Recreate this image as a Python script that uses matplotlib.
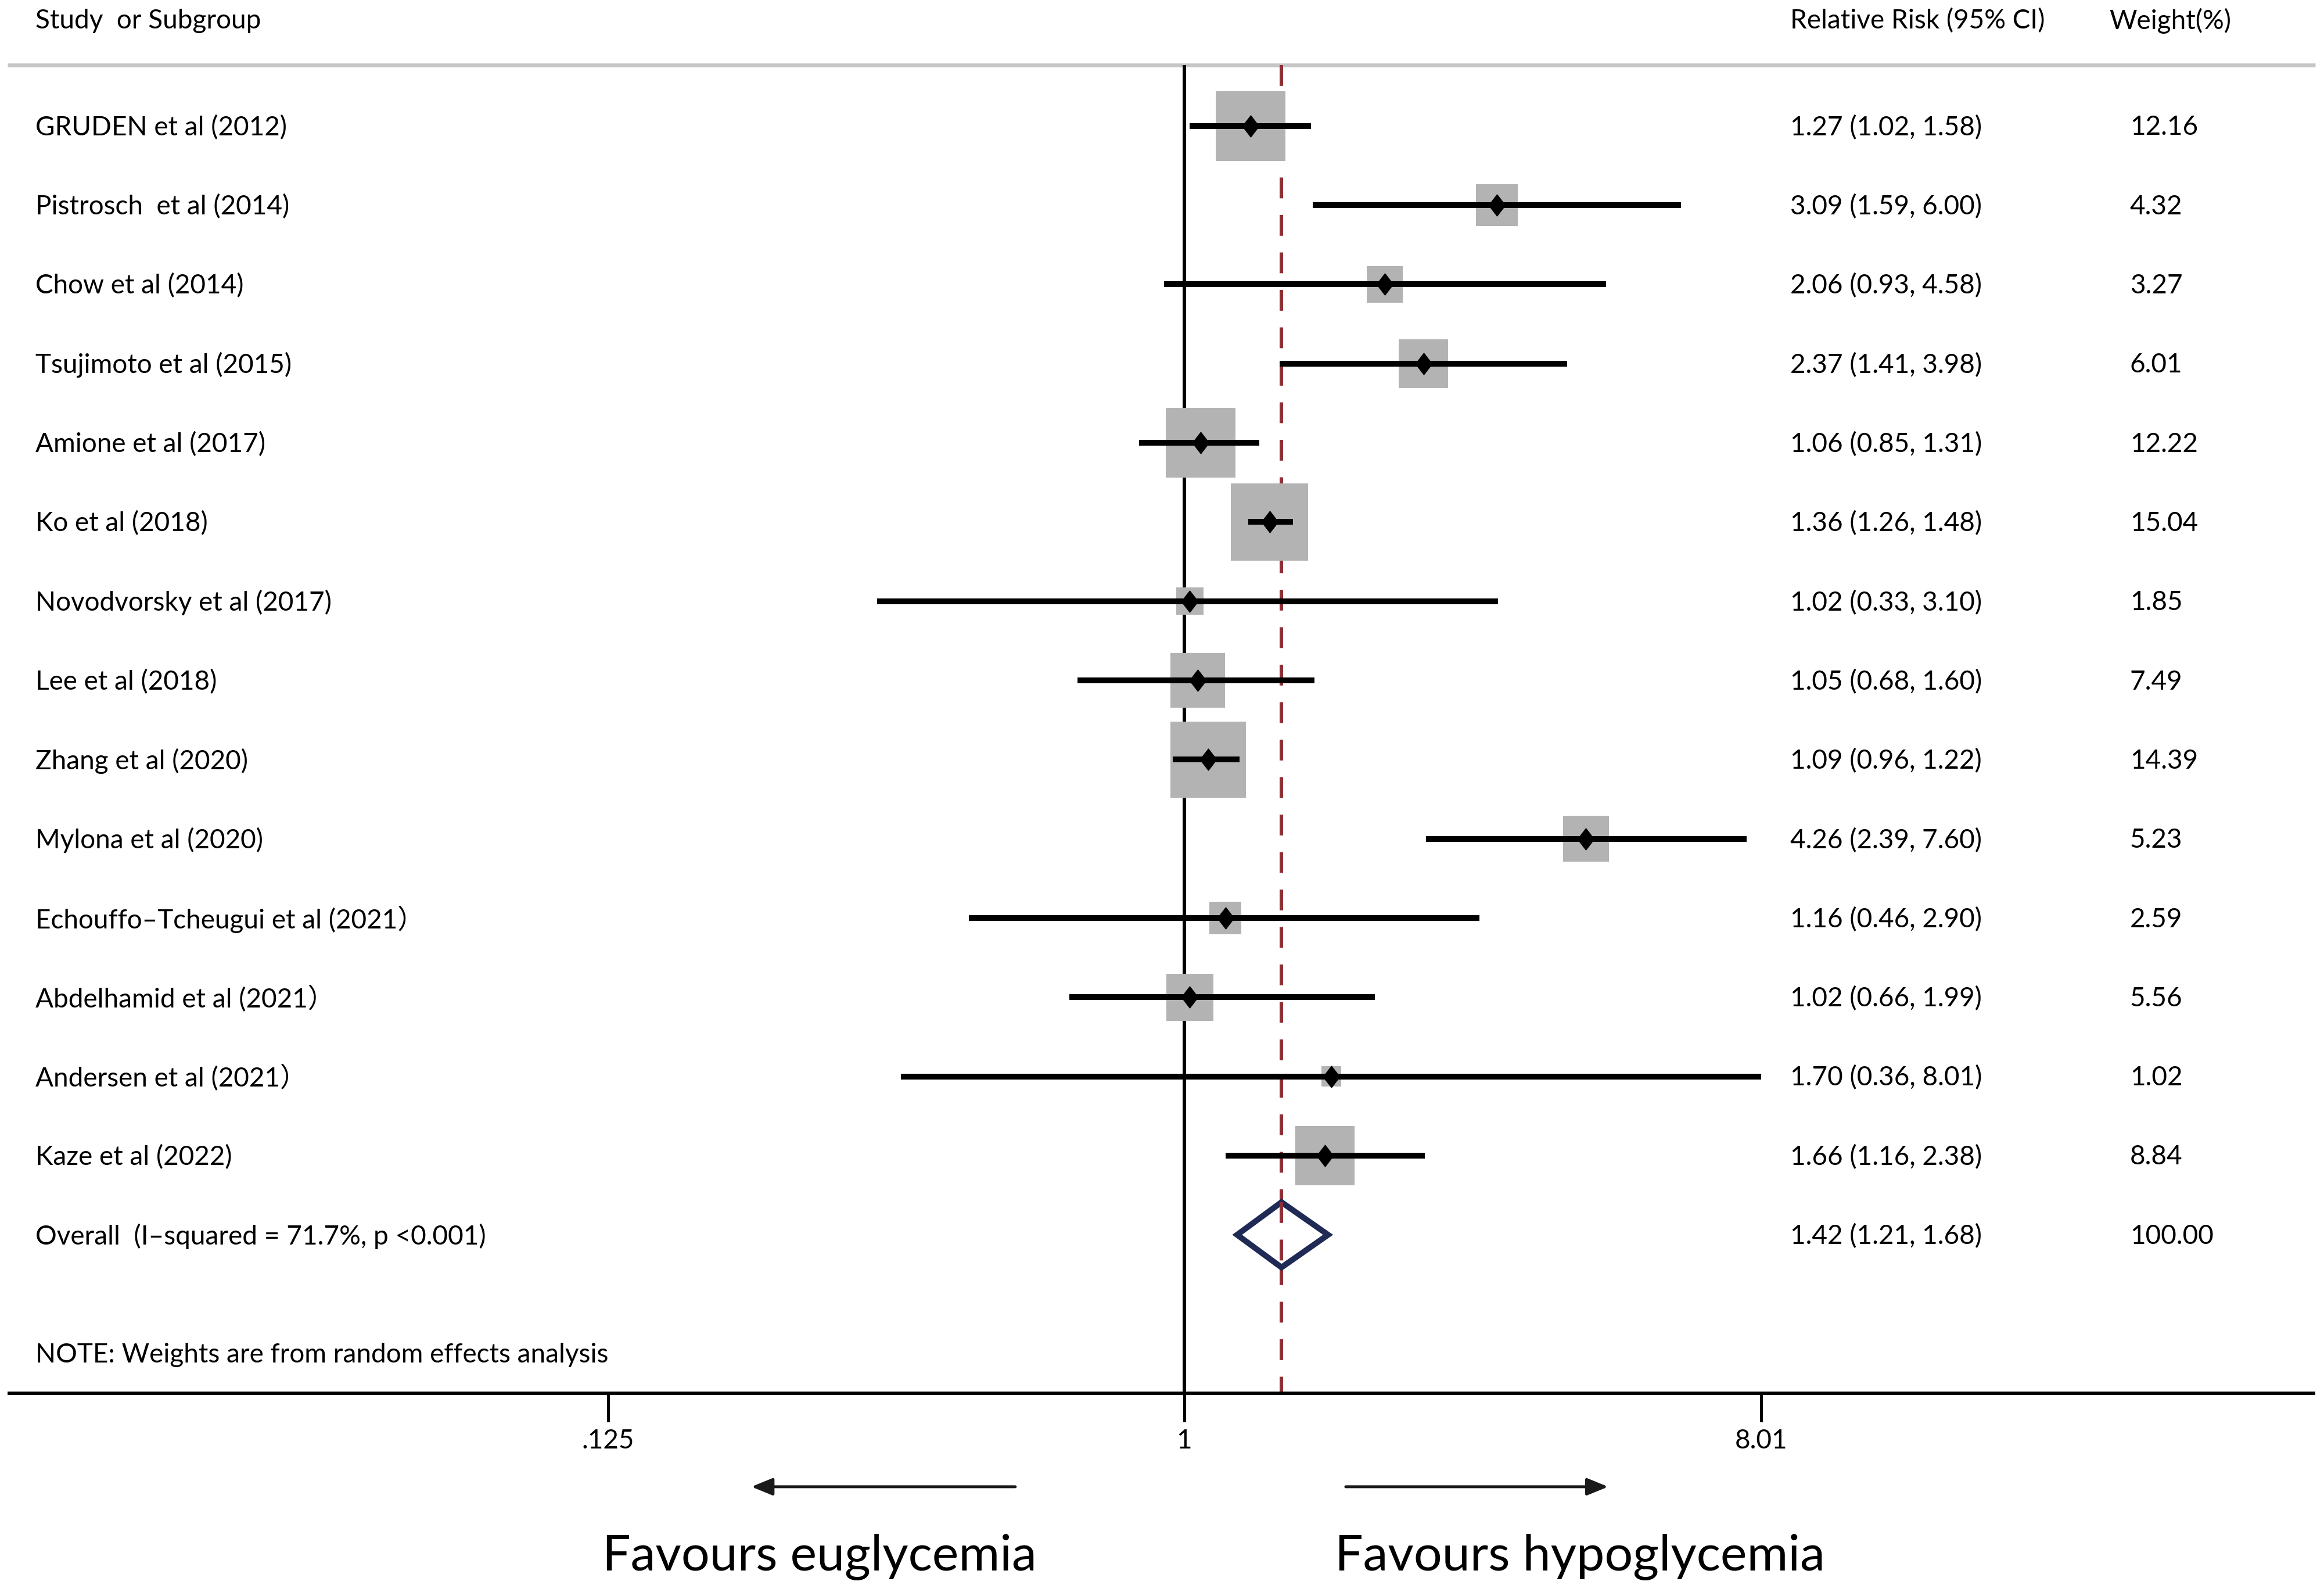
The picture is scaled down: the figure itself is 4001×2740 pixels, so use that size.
import matplotlib
matplotlib.use("Agg")
import matplotlib.pyplot as plt
import numpy as np
from matplotlib.path import Path

# ---------------- data ----------------
studies = [
    "GRUDEN et al (2012)",
    "Pistrosch  et al (2014)",
    "Chow et al (2014)",
    "Tsujimoto et al (2015)",
    "Amione et al (2017)",
    "Ko et al (2018)",
    "Novodvorsky et al (2017)",
    "Lee et al (2018)",
    "Zhang et al (2020)",
    "Mylona et al (2020)",
    "Echouffo\u2013Tcheugui et al (2021\uff09",
    "Abdelhamid et al (2021\uff09",
    "Andersen et al (2021\uff09",
    "Kaze et al (2022)",
]
rr = [1.27, 3.09, 2.06, 2.37, 1.06, 1.36, 1.02, 1.05, 1.09, 4.26, 1.16, 1.02, 1.70, 1.66]
ci_lo = [1.02, 1.59, 0.93, 1.41, 0.85, 1.26, 0.33, 0.68, 0.96, 2.39, 0.46, 0.66, 0.36, 1.16]
ci_hi = [1.58, 6.00, 4.58, 3.98, 1.31, 1.48, 3.10, 1.60, 1.22, 7.60, 2.90, 1.99, 8.01, 2.38]
weights = [12.16, 4.32, 3.27, 6.01, 12.22, 15.04, 1.85, 7.49, 14.39, 5.23, 2.59, 5.56, 1.02, 8.84]

overall_label = "Overall  (I\u2013squared = 71.7%, p <0.001)"
overall_rr = 1.42
overall_lo = 1.21
overall_hi = 1.68
overall_weight = 100.00

ticks = [0.125, 1, 8.01]
tick_labels = [".125", "1", "8.01"]

header_study = "Study  or Subgroup"
header_rr = "Relative Risk (95% CI)"
header_w = "Weight(%)"
note = "NOTE: Weights are from random effects analysis"
left_label = "Favours euglycemia"
right_label = "Favours hypoglycemia"

# ---------------- figure ----------------
FONT = ["Lato", "Noto Sans CJK SC", "DejaVu Sans"]
plt.rcParams["font.family"] = FONT

W, H = 1568.0, 1074.0  # layout units (reference scaled view)
fig = plt.figure(figsize=(40.01, 27.40), dpi=100)
ax = fig.add_axes([0, 0, 1, 1])
ax.set_xscale("log", base=2)
ax.set_xlim(2 ** -6.164, 2 ** 5.932)
ax.set_ylim(H, 0)
ax.axis("off")
tY = ax.get_yaxis_transform()  # x: axes fraction, y: data

row0, dy = 85.0, 53.43
n = len(studies)
ys = row0 + dy * np.arange(n)
y_over = row0 + dy * n

fs = 33
ty = 1.0  # small baseline shift for text
# headers
ax.text(24 / W, 13 + ty, header_study, transform=tY, fontsize=fs, va="center", ha="left")
ax.text(1208 / W, 13 + ty, header_rr, transform=tY, fontsize=fs, va="center", ha="left")
ax.text(1423 / W, 13 + ty, header_w, transform=tY, fontsize=fs, va="center", ha="left")

# top grey separator
ax.plot([5 / W, 1562 / W], [44, 44], transform=tY, color="#c6c6c6", lw=4.8,
        solid_capstyle="butt")

# reference lines
ax.vlines(1, 44, 940, color="black", lw=4.3, zorder=2)
ax.vlines(overall_rr, 44, 940, color="#8f2f35", lw=4.3, linestyles=(0, (6, 4.8)), zorder=2)

# boxes sized by weight
box_side_pt = 24.77 * np.sqrt(np.array(weights))
ax.scatter(rr, ys, s=box_side_pt ** 2, marker="s", color="#b3b3b3", linewidths=0, zorder=3)

# CI lines
ax.hlines(ys, ci_lo, ci_hi, color="black", lw=7.2, zorder=4)

# point estimates (tall diamond)
dmark = Path([(0, 1), (0.77, 0), (0, -1), (-0.77, 0), (0, 1)],
             [Path.MOVETO, Path.LINETO, Path.LINETO, Path.LINETO, Path.CLOSEPOLY])
ax.plot(rr, ys, linestyle="none", marker=dmark, markersize=26.6, color="black", zorder=5)

# overall diamond
hd = 22.0
ax.fill([overall_lo, overall_rr, overall_hi, overall_rr],
        [y_over, y_over - hd, y_over, y_over + hd],
        facecolor="white", edgecolor="#1f2a55", lw=7.2, zorder=5, joinstyle="miter")
ax.vlines(overall_rr, y_over - hd, y_over + hd, color="#8f2f35", lw=4.3,
          linestyles=(0, (6, 4.8)), zorder=6)

# study labels & columns
for y, s, r, lo, hi, w in zip(ys, studies, rr, ci_lo, ci_hi, weights):
    ax.text(24 / W, y + ty, s, transform=tY, fontsize=fs, va="center", ha="left")
    ax.text(1208 / W, y + ty, f"{r:.2f} ({lo:.2f}, {hi:.2f})", transform=tY, fontsize=fs,
            va="center", ha="left")
    ax.text(1437 / W, y + ty, f"{w:.2f}", transform=tY, fontsize=fs, va="center", ha="left")

ax.text(24 / W, y_over + ty, overall_label, transform=tY, fontsize=fs, va="center", ha="left")
ax.text(1208 / W, y_over + ty, f"{overall_rr:.2f} ({overall_lo:.2f}, {overall_hi:.2f})",
        transform=tY, fontsize=fs, va="center", ha="left")
ax.text(1437 / W, y_over + ty, f"{overall_weight:.2f}", transform=tY, fontsize=fs,
        va="center", ha="left")

ax.text(24 / W, 913 + ty, note, transform=tY, fontsize=fs, va="center", ha="left")

# x axis
ax.plot([5 / W, 1562 / W], [940, 940], transform=tY, color="black", lw=4.3,
        solid_capstyle="butt", zorder=6)
ax.vlines(ticks, 940, 959, color="black", lw=3.6)
for t, lab in zip(ticks, tick_labels):
    ax.text(t, 972, lab, fontsize=fs, ha="center", va="center")

# arrows
ap = dict(arrowstyle="-|>,head_length=1.1,head_width=0.45", lw=3.6, color="#1a1a1a",
          shrinkA=0, shrinkB=0, mutation_scale=20)
ax.annotate("", xy=(507 / W, 1003), xytext=(685 / W, 1003), xycoords=tY, textcoords=tY,
            arrowprops=ap)
ax.annotate("", xy=(1085 / W, 1003), xytext=(908 / W, 1003), xycoords=tY, textcoords=tY,
            arrowprops=ap)

ax.text(553 / W, 1050, left_label, transform=tY, fontsize=62, ha="center", va="center")
ax.text(1066 / W, 1050, right_label, transform=tY, fontsize=62, ha="center", va="center")

fig.savefig("out.png", dpi=100, facecolor="white")
